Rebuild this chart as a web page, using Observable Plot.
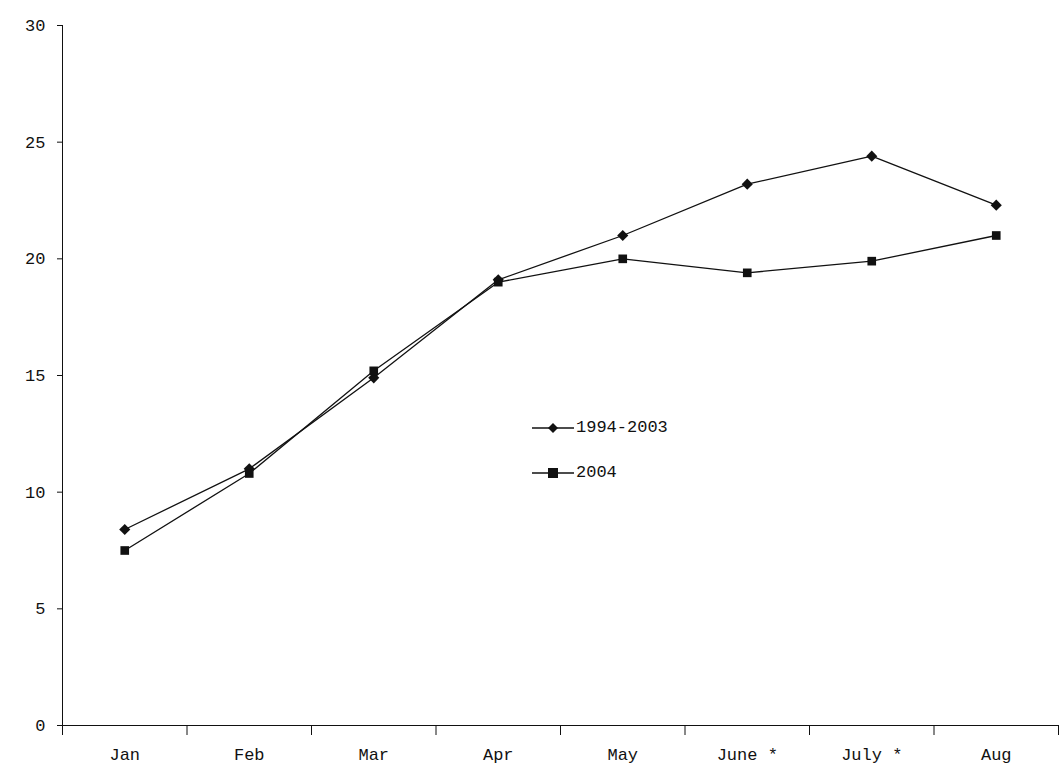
<!DOCTYPE html>
<html><head><meta charset="utf-8">
<script src="https://cdn.jsdelivr.net/npm/d3@7"></script>
<script src="https://cdn.jsdelivr.net/npm/@observablehq/plot@0.6"></script>
<style>
body{margin:0;background:#fff;font-family:"Liberation Mono",monospace}
#wrap{position:relative;width:1059px;height:775px}
#legend{position:absolute;left:530px;top:405px;font:17px "Liberation Mono",monospace;color:#111}
#legend div{display:flex;align-items:center;height:45px}
</style></head>
<body><div id="wrap"><div id="chart"></div>
<div id="legend">
<div><svg width="46" height="14"><line x1="2" x2="44" y1="7" y2="7" stroke="#111" stroke-width="1.3"/><path d="M23 2 L28 7 L23 12 L18 7Z" fill="#111"/></svg>1994-2003</div>
<div><svg width="46" height="14"><line x1="2" x2="44" y1="7" y2="7" stroke="#111" stroke-width="1.3"/><rect x="18" y="2" width="10" height="10" fill="#111"/></svg>2004</div>
</div></div>
<script>
const months = ["Jan","Feb","Mar","Apr","May","June *","July *","Aug"]
const avg = [8.4, 11.0, 14.9, 19.1, 21.0, 23.2, 24.4, 22.3]
const y2004 = [7.5, 10.8, 15.2, 19.0, 20.0, 19.4, 19.9, 21.0]
const yTicks = [0, 5, 10, 15, 20, 25, 30]

const rows = s => s.map((v, i) => ({x: i + 0.5, y: v}))
const font = "Liberation Mono, monospace"

const chart = Plot.plot({
  width: 1059, height: 775,
  marginLeft: 62, marginRight: 1, marginTop: 25, marginBottom: 50,
  style: {fontFamily: font, fontSize: "17px", color: "#111", background: "#fff"},
  x: {domain: [0, 8]},
  y: {domain: [0, 30]},
  marks: [
    Plot.axisY({ticks: yTicks, tickSize: 5, tickPadding: 12, label: null, fontSize: 17}),
    Plot.ruleX([0], {stroke: "#111"}),
    Plot.ruleY([0], {stroke: "#111"}),
    Plot.axisX({ticks: d3.range(0, 9), tickSize: 10, tickFormat: () => "", label: null}),
    Plot.axisX({ticks: months.map((m, i) => i + 0.5), tickSize: 0, tickPadding: 22,
      tickFormat: d => months[Math.floor(d)], label: null, fontSize: 17}),
    Plot.line(rows(avg), {x: "x", y: "y", stroke: "#111", strokeWidth: 1.3}),
    Plot.dot(rows(avg), {x: "x", y: "y", symbol: "diamond2", r: 5, fill: "#111"}),
    Plot.line(rows(y2004), {x: "x", y: "y", stroke: "#111", strokeWidth: 1.3}),
    Plot.dot(rows(y2004), {x: "x", y: "y", symbol: "square2", r: 5.5, fill: "#111"})
  ]
})
document.querySelector("#chart").append(chart)
</script></body></html>
